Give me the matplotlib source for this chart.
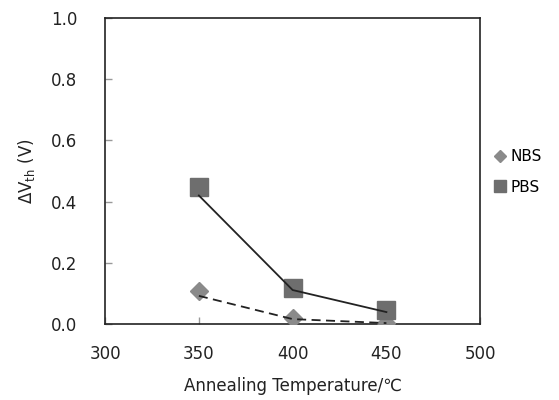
import matplotlib
matplotlib.use("Agg")
import matplotlib.pyplot as plt
from matplotlib.lines import Line2D

plt.rcParams['font.family'] = ['DejaVu Sans', 'Noto Sans CJK JP']

# data
temps = [350, 400, 450]
nbs = [0.108, 0.020, 0.004]
pbs = [0.448, 0.118, 0.046]
# trend lines drawn by the original (slightly below the markers)
nbs_line = [0.092, 0.016, 0.003]
pbs_line = [0.420, 0.111, 0.039]

fig = plt.figure(figsize=(5.59, 4.0), dpi=100)
ax = fig.add_axes([0.188, 0.19, 0.671, 0.765])

ax.plot(temps, nbs, linestyle='none', marker='D', markersize=9,
        color='#8a8a8a', zorder=3)
ax.plot(temps, pbs, linestyle='none', marker='s', markersize=13,
        color='#6e6e6e', zorder=3)
ax.plot(temps, nbs_line, linestyle=(0, (5, 3)), color='#222222', lw=1.3, zorder=4)
ax.plot(temps, pbs_line, linestyle='-', color='#222222', lw=1.3, zorder=4)

ax.set_xlim(300, 500)
ax.set_ylim(0, 1.0)
ax.set_xticks([300, 350, 400, 450, 500])
ax.set_yticks([0.0, 0.2, 0.4, 0.6, 0.8, 1.0])
ax.set_yticklabels(['0.0', '0.2', '0.4', '0.6', '0.8', '1.0'])
ax.tick_params(direction='in', length=5, width=1, color='#999999',
               labelsize=12, labelcolor='#222222')
ax.tick_params(axis='y', pad=20)
ax.tick_params(axis='x', pad=15)
for s in ax.spines.values():
    s.set_linewidth(1.2)
    s.set_color('#222222')

ax.set_xlabel('Annealing Temperature/℃', fontsize=12, color='#222222', labelpad=10)
ax.set_ylabel(r'$\Delta$V$_{\mathregular{th}}$ (V)', fontsize=12, color='#222222', labelpad=10)

handles = [Line2D([], [], linestyle='none', marker='D', markersize=6, color='#8a8a8a'),
           Line2D([], [], linestyle='none', marker='s', markersize=8, color='#6e6e6e')]
ax.legend(handles, ['NBS', 'PBS'], loc='center left', bbox_to_anchor=(1.0, 0.497),
          frameon=False, fontsize=11, handlelength=0.8, handletextpad=0.3,
          labelspacing=1.0)

fig.savefig('out.png', dpi=100)
